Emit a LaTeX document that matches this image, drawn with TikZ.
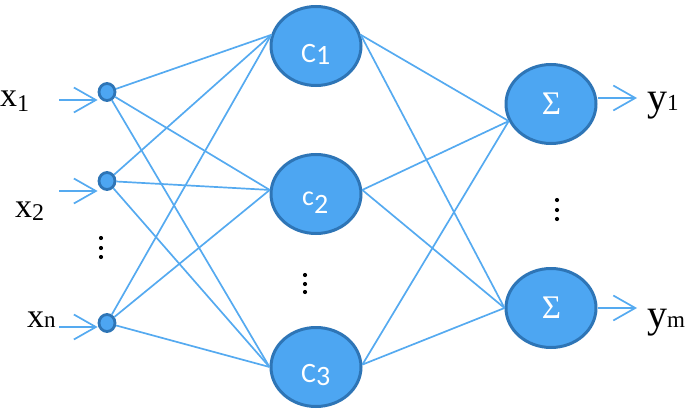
\documentclass[tikz,border=0pt]{standalone}
\usepackage{fontspec}
\setmainfont{Liberation Serif}
\newfontfamily\cfont{Carlito}
\usetikzlibrary{arrows.meta,shapes.geometric}
\definecolor{lineblue}{RGB}{85,170,240}
\definecolor{fillblue}{RGB}{77,166,242}
\definecolor{edgeblue}{RGB}{46,117,182}
\begin{document}
\begin{tikzpicture}[x=1pt,y=-1pt,
  conn/.style={draw=lineblue,line width=1.7pt},
  inarrow/.style={conn,-{Straight Barb[length=22pt,width=25pt]}},
  innode/.style={ellipse,draw=edgeblue,fill=fillblue,line width=2.8pt,minimum width=16pt,minimum height=17pt,inner sep=0pt},
  bignode/.style={ellipse,draw=edgeblue,fill=fillblue,line width=3pt,minimum width=90pt,minimum height=79pt,inner sep=0pt},
  lbl/.style={anchor=base west,inner sep=0pt},
  clbl/.style={anchor=base west,inner sep=0pt,text=white,font=\cfont\fontsize{28}{28}\selectfont},
  slbl/.style={anchor=base,inner sep=0pt,text=white,font=\fontsize{33}{33}\selectfont},
  dotn/.style={circle,fill=black,inner sep=0pt,minimum size=4.2pt}]
\useasboundingbox (0,0) rectangle (685,409);

% input nodes
\node[innode] (i1) at (107,92) {};
\node[innode] (i2) at (107,181) {};
\node[innode] (i3) at (107,323) {};
% hidden nodes
\node[bignode] (c1) at (316,46) {};
\node[bignode] (c2) at (316,194) {};
\node[bignode] (c3) at (316,367) {};
% output nodes
\node[bignode] (s1) at (551,104) {};
\node[bignode] (s2) at (551,308) {};

% labels inside
\node[clbl] (t1) at (301,63) {C\raisebox{-1.3pt}{1}};
\node[clbl] (t2) at (302,205) {c\raisebox{-8pt}{2}};
\node[clbl] (t3) at (301,382) {C\raisebox{-3pt}{3}};
\node[slbl] (g1) at (551.5,114) {Σ};
\node[slbl] (g2) at (551.5,318) {Σ};

% input to hidden
\foreach \i in {i1,i2,i3}{
  \draw[conn] (\i) -- (c1.166);
  \draw[conn] (\i) -- (c2.175);
  \draw[conn] (\i) -- (c3.180);
}
% hidden to output
\foreach \c/\a in {c1/14,c2/5,c3/3}{
  \draw[conn] (\c.\a) -- (s1.202);
  \draw[conn] (\c.\a) -- (s2.180);
}

% input arrows
\coordinate (xa1) at (59,100);
\coordinate (xa2) at (59,191);
\coordinate (xa3) at (59,327);
\draw[inarrow] (xa1) -- (xa1 -| i1.west);
\draw[inarrow] (xa2) -- (xa2 -| i2.west);
\draw[inarrow] (xa3) -- (xa3 -| i3.west);
% output arrows
\coordinate (ya1) at (637,98);
\coordinate (ya2) at (637,308);
\draw[inarrow] (ya1 -| s1.east) -- (ya1);
\draw[inarrow] (s2.east) -- (ya2);

% outer labels
\node[lbl] (lx1) at (0,107) {\fontsize{34}{34}\selectfont x\raisebox{-5pt}{\fontsize{24}{24}\selectfont 1}};
\node[lbl] (lx2) at (15,217) {\fontsize{34}{34}\selectfont x\raisebox{-3pt}{\fontsize{24}{24}\selectfont 2}};
\node[lbl] (lx3) at (27,327) {\fontsize{34}{34}\selectfont x\fontsize{23}{23}\selectfont n};
\node[lbl] (ly1) at (647,111) {\fontsize{40}{40}\selectfont y\fontsize{23}{23}\selectfont 1};
\node[lbl] (ly2) at (647,327) {\fontsize{40}{40}\selectfont y\fontsize{23}{23}\selectfont m};

% dots
\foreach \y [count=\k] in {238,248,257}{\node[dotn] (da\k) at (101,\y) {};}
\foreach \y [count=\k] in {275,284,292}{\node[dotn] (db\k) at (305,\y) {};}
\foreach \y [count=\k] in {200,210,219}{\node[dotn] (dc\k) at (557,\y) {};}
\end{tikzpicture}
\end{document}
